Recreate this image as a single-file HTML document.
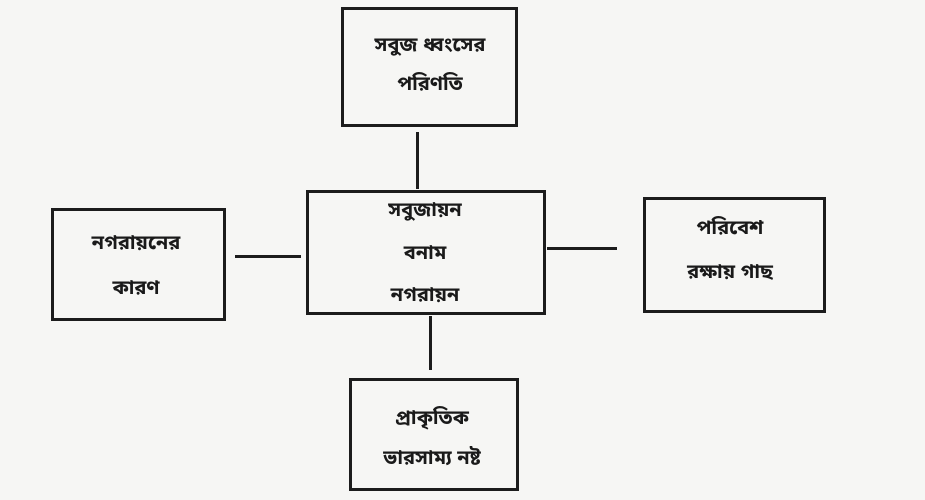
<!DOCTYPE html>
<html><head><meta charset="utf-8"><style>
body{margin:0;width:925px;height:500px;background:#f6f6f4;position:relative;overflow:hidden;font-family:"Liberation Sans","Noto Sans Bengali","Lohit Bengali",sans-serif;}
.b{position:absolute;border:3px solid #1c1c1c;box-sizing:border-box;}
.t{position:absolute;font-size:20px;font-weight:bold;color:#1a1a1a;white-space:nowrap;transform:translate(-50%,-50%);}
.l{position:absolute;background:#1c1c1c;}
</style></head><body>
<div class="b" style="left:341px;top:7px;width:177px;height:120px"></div>
<div class="b" style="left:306px;top:190px;width:240px;height:125px"></div>
<div class="b" style="left:51px;top:208px;width:175px;height:113px"></div>
<div class="b" style="left:643px;top:197px;width:183px;height:116px"></div>
<div class="b" style="left:349px;top:378px;width:170px;height:113px"></div>
<div class="l" style="left:416px;top:132px;width:3px;height:57px"></div>
<div class="l" style="left:235px;top:255px;width:66px;height:3px"></div>
<div class="l" style="left:547px;top:247px;width:70px;height:3px"></div>
<div class="l" style="left:429px;top:316px;width:3px;height:54px"></div>
<div class="t" style="left:430px;top:47px">সবুজ ধ্বংসের</div>
<div class="t" style="left:430px;top:86px">পরিণতি</div>
<div class="t" style="left:425px;top:212px">সবুজায়ন</div>
<div class="t" style="left:425px;top:255px">বনাম</div>
<div class="t" style="left:425px;top:297px">নগরায়ন</div>
<div class="t" style="left:136px;top:245px">নগরায়নের</div>
<div class="t" style="left:136px;top:290px">কারণ</div>
<div class="t" style="left:730px;top:230px">পরিবেশ</div>
<div class="t" style="left:730px;top:274px">রক্ষায় গাছ</div>
<div class="t" style="left:432px;top:420px">প্রাকৃতিক</div>
<div class="t" style="left:432px;top:460px">ভারসাম্য নষ্ট</div>
</body></html>
